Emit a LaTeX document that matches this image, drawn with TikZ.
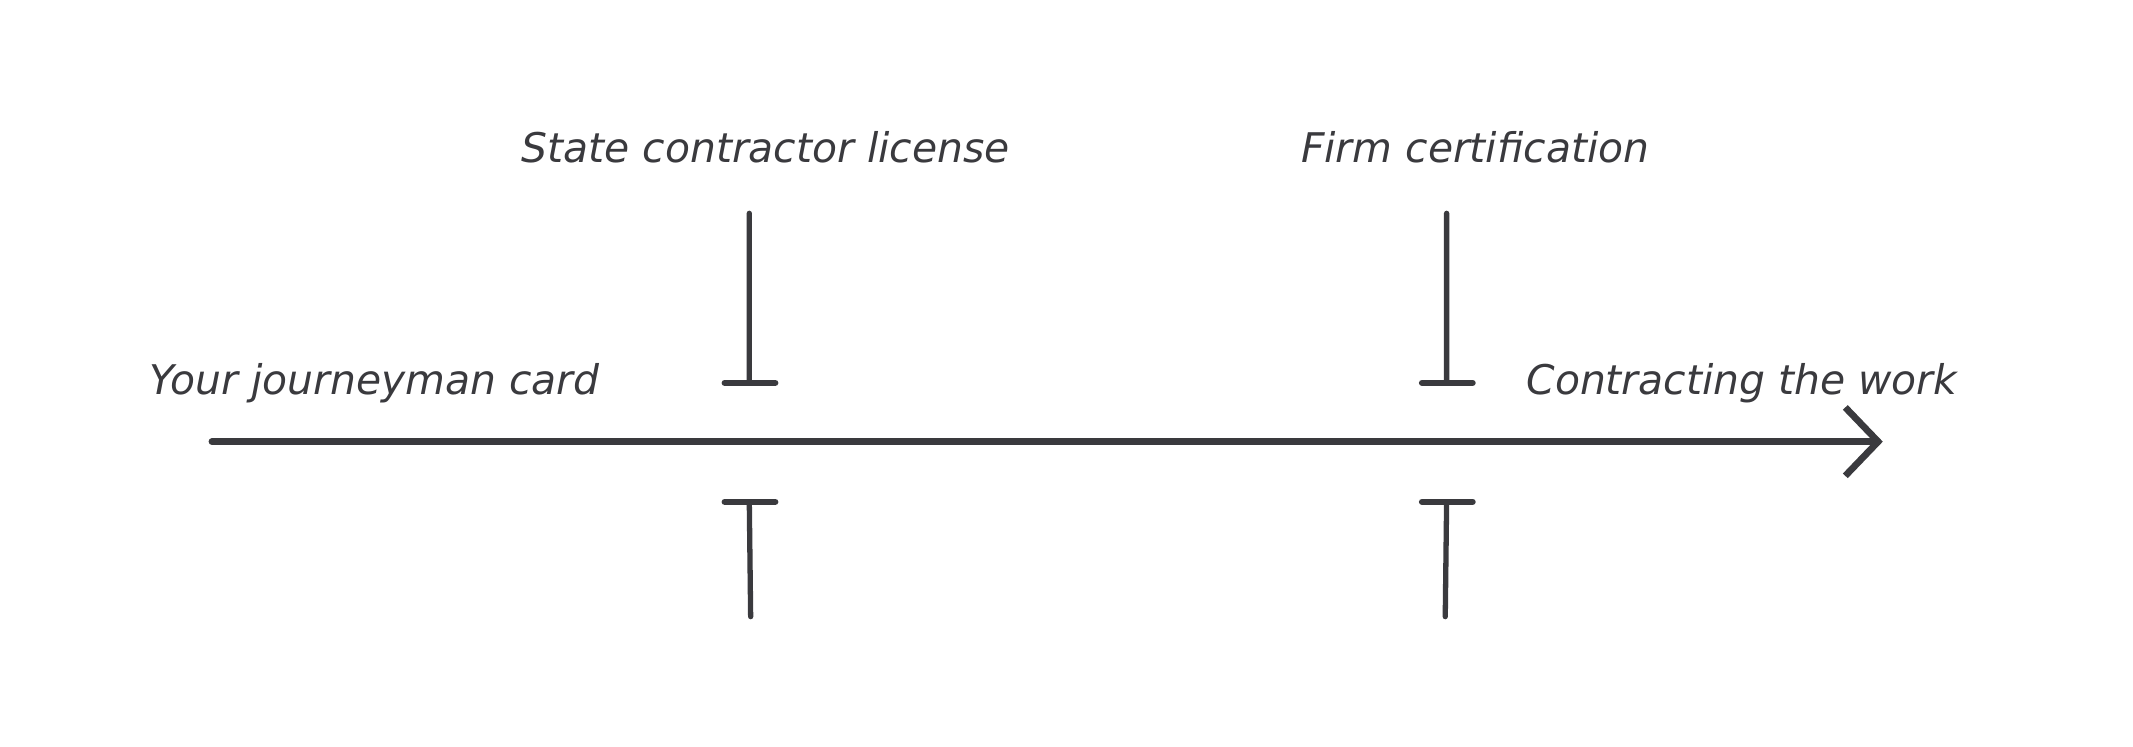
\documentclass[tikz,border=0pt]{standalone}
\usepackage{fontspec}
\setmainfont{DejaVu Sans}
\usetikzlibrary{arrows.meta,positioning}
\definecolor{ink}{HTML}{3A3A3E}
\tikzset{
  stroke/.style={draw=ink, line width=1.1pt, line cap=round},
  label text/.style={text=ink, font=\fontsize{8.5}{10}\selectfont\itshape, inner sep=0pt},
  stop bar/.style={stroke, -{Bar[width=10.5mm,line width=1.3pt]}}
}
\begin{document}
\begin{tikzpicture}[x=0.01cm,y=-0.01cm]
        \useasboundingbox (0,0) rectangle (1560,546);
        \coordinate (start) at (155,323);
        \coordinate (end) at (1377,323);
        \coordinate (licTop) at (548,156);
        \coordinate (licUp) at (548,280);
        \coordinate (licDown) at (548,367);
        \coordinate (licBot) at (549,451);
        \coordinate (firmTop) at (1058,156);
        \coordinate (firmUp) at (1058,280);
        \coordinate (firmDown) at (1058,367);
        \coordinate (firmBot) at (1057,451);

        \node[label text] (card) at (274,280) {Your journeyman card};
        \node[label text] (work) at (1274,280) {Contracting the work};
        \node[label text] (lic) at (560,108) {State contractor license};
        \node[label text] (firm) at (1079,108) {Firm certification};

        \draw[stroke, line width=1.4pt, -{Straight Barb[length=2.4mm,width=5mm,line width=1.4pt]}] (start) -- (end);
        \draw[stroke] (licTop) -- (licUp) (licBot) -- (licDown)
              (firmTop) -- (firmUp) (firmBot) -- (firmDown);
        \draw[stroke, line width=1.3pt] (530,280) -- (567,280) (530,367) -- (567,367)
              (1040,280) -- (1077,280) (1040,367) -- (1077,367);
\end{tikzpicture}
\end{document}
